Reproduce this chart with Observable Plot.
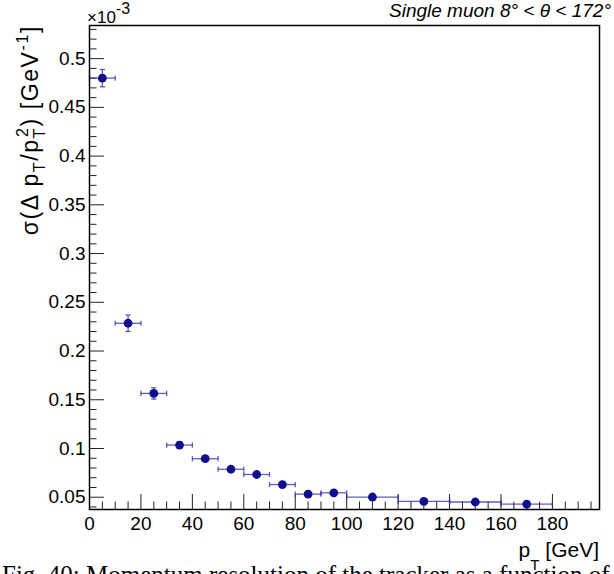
<!DOCTYPE html>
<html><head><meta charset="utf-8">
<script src="https://cdn.jsdelivr.net/npm/d3@7"></script>
<script src="https://cdn.jsdelivr.net/npm/@observablehq/plot@0.6"></script>
<style>
body{margin:0;background:#fff;}
#chart{position:relative;width:614px;height:574px;overflow:hidden;background:#fff;}
</style>
</head><body><div id="chart"></div>
<script>
// Data (sigma in units of 1e-3 GeV^-1)
const ptCenter = [5, 15, 25, 35, 45, 55, 65, 75, 85, 95, 110, 130, 150, 170];
const ptLow    = [0, 10, 20, 30, 40, 50, 60, 70, 80, 90, 100, 120, 140, 160];
const ptHigh   = [10, 20, 30, 40, 50, 60, 70, 80, 90, 100, 120, 140, 160, 180];
const sigma    = [0.480, 0.2285, 0.1565, 0.1035, 0.0895, 0.0787, 0.0733, 0.0630, 0.0532, 0.0545, 0.0502, 0.0457, 0.0451, 0.0430];
const sigmaErr = [0.0089, 0.0084, 0.0058, 0.0034, 0.0020, 0.0016, 0.0015, 0.0012, 0.0010, 0.0010, 0.0009, 0.0008, 0.0008, 0.0008];

const xMajor = [0, 20, 40, 60, 80, 100, 120, 140, 160, 180];
const xMinor = [5, 10, 15, 25, 30, 35, 45, 50, 55, 65, 70, 75, 85, 90, 95, 105, 110, 115, 125, 130, 135, 145, 150, 155, 165, 170, 175, 185, 190, 195];
const yMajor = [0.05, 0.1, 0.15, 0.2, 0.25, 0.3, 0.35, 0.4, 0.45, 0.5];
const yMinor = [0.04, 0.06, 0.07, 0.08, 0.09, 0.11, 0.12, 0.13, 0.14, 0.16, 0.17, 0.18, 0.19, 0.21, 0.22, 0.23, 0.24, 0.26, 0.27, 0.28, 0.29, 0.31, 0.32, 0.33, 0.34, 0.36, 0.37, 0.38, 0.39, 0.41, 0.42, 0.43, 0.44, 0.46, 0.47, 0.48, 0.49, 0.51, 0.52, 0.53];
const yTickLabels = ["0.05", "0.1", "0.15", "0.2", "0.25", "0.3", "0.35", "0.4", "0.45", "0.5"];

const rows = ptCenter.map((x, i) => ({
  x, lo: ptLow[i], hi: ptHigh[i], y: sigma[i],
  ylo: sigma[i] - sigmaErr[i], yhi: sigma[i] + sigmaErr[i]
}));

const capV = {draw(ctx, size) { const r = Math.sqrt(size / Math.PI); ctx.moveTo(0, -r); ctx.lineTo(0, r); }};
const capH = {draw(ctx, size) { const r = Math.sqrt(size / Math.PI); ctx.moveTo(-r, 0); ctx.lineTo(r, 0); }};

const markerColor = "#0e0e8c";
const barColor = "#2a2aa2";

const plot = Plot.plot({
  width: 614,
  height: 574,
  marginLeft: 89,
  marginRight: 15,
  marginTop: 25,
  marginBottom: 65,
  style: {fontFamily: "'Liberation Sans', Arial, sans-serif", fontSize: "19px", background: "#fff", color: "#000"},
  x: {domain: [0, 198.3]},
  y: {domain: [0.0374, 0.534]},
  marks: [
    Plot.axisX({ticks: xMajor, tickSize: -15, tickFormat: () => "", label: null, stroke: "#222"}),
    Plot.axisX({ticks: xMinor, tickSize: -7.5, tickFormat: () => "", label: null, stroke: "#222"}),
    Plot.axisX({ticks: xMajor, tickSize: 0, tickPadding: 7, tickFormat: d => String(d), label: null, fill: "#000"}),
    Plot.axisY({ticks: yMajor, tickSize: -15, tickFormat: () => "", label: null, stroke: "#222"}),
    Plot.axisY({ticks: yMinor, tickSize: -7.5, tickFormat: () => "", label: null, stroke: "#222"}),
    Plot.axisY({ticks: yMajor, tickSize: 0, tickPadding: 4, tickFormat: (d, i) => yTickLabels[i], label: null, fill: "#000"}),
    Plot.link(rows, {x1: "lo", x2: "hi", y1: "y", y2: "y", stroke: barColor, strokeWidth: 1.3, strokeOpacity: 0.75}),
    Plot.link(rows, {x1: "x", x2: "x", y1: "ylo", y2: "yhi", stroke: barColor, strokeWidth: 1.3, strokeOpacity: 0.75}),
    Plot.dot(rows, {x: "lo", y: "y", symbol: capV, r: 2.6, stroke: barColor, strokeWidth: 1.3, strokeOpacity: 0.75}),
    Plot.dot(rows, {x: "hi", y: "y", symbol: capV, r: 2.6, stroke: barColor, strokeWidth: 1.3, strokeOpacity: 0.75}),
    Plot.dot(rows, {x: "x", y: "ylo", symbol: capH, r: 2.6, stroke: barColor, strokeWidth: 1.3, strokeOpacity: 0.75}),
    Plot.dot(rows, {x: "x", y: "yhi", symbol: capH, r: 2.6, stroke: barColor, strokeWidth: 1.3, strokeOpacity: 0.75}),
    Plot.dot(rows, {x: "x", y: "y", r: 4.4, fill: markerColor, stroke: "none"}),
    Plot.frame({stroke: "#000", strokeWidth: 1.5})
  ]
});

const svg = d3.select(plot);
const FONT = "'Liberation Sans', Arial, sans-serif";

// y-axis title
const yt = svg.append("text")
  .attr("transform", "translate(38,25) rotate(-90)")
  .attr("text-anchor", "end")
  .style("font-family", FONT).style("font-size", "23px").style("letter-spacing", "1.6px").attr("fill", "#000");
yt.append("tspan").text("σ(Δ p");
yt.append("tspan").style("font-size", "16px").attr("dy", 7).text("T");
yt.append("tspan").attr("dy", -7).text("/p");
yt.append("tspan").style("font-size", "16px").attr("dy", 7).text("T");
yt.append("tspan").style("font-size", "16px").attr("dx", -10).attr("dy", -17).text("2");
yt.append("tspan").attr("dy", 10).text(") [GeV");
yt.append("tspan").style("font-size", "16px").attr("dy", -10).text("-1");
yt.append("tspan").attr("dy", 10).text("]");

// x-axis title
const xt = svg.append("text")
  .attr("x", 599).attr("y", 557)
  .attr("text-anchor", "end")
  .style("font-family", FONT).style("font-size", "21px").attr("fill", "#000");
xt.append("tspan").text("p");
xt.append("tspan").style("font-size", "15px").attr("dy", 13).text("T");
xt.append("tspan").attr("dy", -13).text(" [GeV]");

// exponent label
const ex = svg.append("text")
  .attr("x", 87).attr("y", 23)
  .attr("text-anchor", "start")
  .style("font-family", FONT).style("font-size", "17px").attr("fill", "#000");
ex.append("tspan").text("×10");
ex.append("tspan").style("font-size", "16px").attr("dy", -9).text("-3");

// header
svg.append("text")
  .attr("x", 611).attr("y", 17)
  .attr("text-anchor", "end")
  .style("font-family", FONT).style("font-style", "italic").style("font-size", "19px").attr("fill", "#000")
  .text("Single muon 8° < θ < 172°");

// document caption (cut by the page edge, as in the reference)
svg.append("text")
  .attr("x", 2).attr("y", 583)
  .attr("text-anchor", "start")
  .style("font-family", "'Liberation Serif', 'Times New Roman', serif").style("font-size", "25px").attr("fill", "#000")
  .text("Fig. 40: Momentum resolution of the tracker as a function of");

document.getElementById("chart").appendChild(plot);
</script>
</body></html>
